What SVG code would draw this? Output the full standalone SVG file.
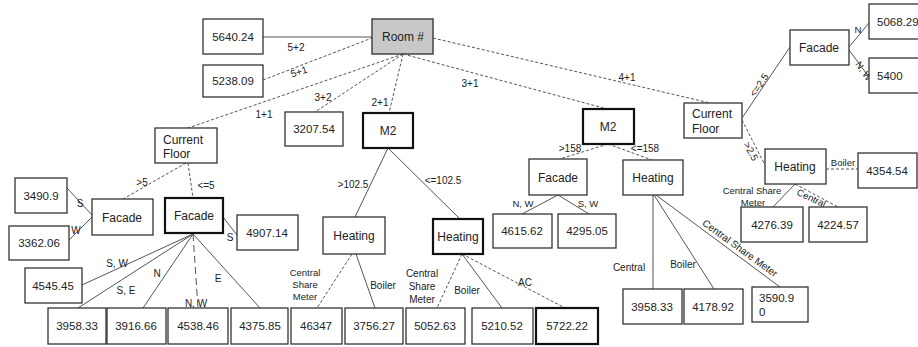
<svg xmlns="http://www.w3.org/2000/svg" width="918" height="347" viewBox="0 0 918 347">
<style>
.b{fill:#fff;stroke:#333;stroke-width:1.3}
.bt{fill:#fff;stroke:#111;stroke-width:2.2}
.g{fill:#c8c8c8;stroke:#444;stroke-width:1.5}
text{font-family:"Liberation Sans",Arial,sans-serif;fill:#222}
.t{font-size:12px;text-anchor:middle}
.ts{font-size:12px;text-anchor:start}
.n{font-size:11.5px;text-anchor:middle}
.ns{font-size:11.5px;text-anchor:start}
.l{font-size:10px;text-anchor:middle}
.s{font-size:9.5px;text-anchor:middle}
.c line{stroke:#555;stroke-width:1}
.c .d{stroke-dasharray:3,2}
.c .ld{stroke-dasharray:7,4}
</style>
<rect width="918" height="347" fill="#fff"/>
<g id="connectors" class="c">
<line x1="263" y1="37" x2="372" y2="37"/>
<line class="d" x1="263" y1="80" x2="372" y2="38"/>
<line class="d" x1="403" y1="54" x2="188" y2="128"/>
<line class="d" x1="403" y1="54" x2="315" y2="112"/>
<line class="d" x1="403" y1="54" x2="389" y2="113"/>
<line class="d" x1="403" y1="54" x2="607" y2="109"/>
<line class="d" x1="433" y1="38" x2="710" y2="103"/>
<line x1="742" y1="118" x2="790" y2="47"/>
<line x1="849" y1="47" x2="869" y2="23"/>
<line x1="849" y1="50" x2="869" y2="77"/>
<line class="d" x1="742" y1="120" x2="765" y2="165"/>
<line class="d" x1="826" y1="169" x2="858" y2="169"/>
<line x1="795" y1="184" x2="773" y2="207"/>
<line class="d" x1="795" y1="184" x2="838" y2="207"/>
<line class="d" x1="608" y1="144" x2="560" y2="159"/>
<line class="d" x1="608" y1="144" x2="652" y2="160"/>
<line x1="558" y1="195" x2="522" y2="214"/>
<line x1="558" y1="195" x2="589" y2="214"/>
<line x1="653" y1="195" x2="653" y2="289"/>
<line x1="654" y1="195" x2="714" y2="289"/>
<line x1="656" y1="195" x2="780" y2="287"/>
<line x1="388" y1="148" x2="355" y2="217"/>
<line x1="388" y1="148" x2="460" y2="219"/>
<line class="d" x1="352" y1="254" x2="317" y2="308"/>
<line x1="356" y1="254" x2="375" y2="308"/>
<line class="d" x1="462" y1="254" x2="437" y2="308"/>
<line x1="462" y1="254" x2="502" y2="308"/>
<line class="d" x1="462" y1="254" x2="565" y2="308"/>
<line class="d" x1="186" y1="163" x2="123" y2="199"/>
<line class="d" x1="188" y1="163" x2="193" y2="198"/>
<line x1="67" y1="188" x2="92" y2="215"/>
<line x1="92" y1="217" x2="69" y2="240"/>
<line x1="223" y1="217" x2="237" y2="235"/>
<line x1="193" y1="234" x2="82" y2="285"/>
<line x1="193" y1="234" x2="78" y2="308"/>
<line x1="193" y1="234" x2="143" y2="308"/>
<line class="ld" x1="193" y1="234" x2="198" y2="308"/>
<line x1="193" y1="234" x2="260" y2="308"/>
</g>
<g id="edge-labels">
<text class="l" x="296" y="51">5+2</text>
<text class="l" transform="translate(300,75) rotate(-18)">5+1</text>
<text class="l" x="264" y="118">1+1</text>
<text class="l" x="323" y="101">3+2</text>
<text class="l" x="380" y="106">2+1</text>
<text class="l" x="470" y="87">3+1</text>
<text class="l" x="627" y="81">4+1</text>
<text class="l" transform="translate(762,87) rotate(-56)">&lt;=2.5</text>
<text class="s" x="858" y="33">N</text>
<text class="s" transform="translate(861,73) rotate(55)">N, W</text>
<text class="l" transform="translate(748,153) rotate(62)">&gt;2.5</text>
<text class="s" x="843" y="166">Boiler</text>
<text class="s" x="752" y="194">Central Share</text>
<text class="s" x="753" y="206">Meter</text>
<text class="s" transform="translate(810,201) rotate(25)">Central</text>
<text class="l" x="570" y="152">&gt;158</text>
<text class="l" x="645" y="152">&lt;=158</text>
<text class="s" x="523" y="207">N, W</text>
<text class="s" x="588" y="207">S, W</text>
<text class="l" x="629" y="271">Central</text>
<text class="l" x="683" y="268">Boiler</text>
<text class="l" transform="translate(738,251) rotate(36)">Central Share Meter</text>
<text class="l" x="353" y="188">&gt;102.5</text>
<text class="l" x="443" y="184">&lt;=102.5</text>
<text class="s" x="305" y="276">Central</text>
<text class="s" x="305" y="288">Share</text>
<text class="s" x="305" y="300">Meter</text>
<text class="l" x="383" y="289">Boiler</text>
<text class="l" x="422" y="277">Central</text>
<text class="l" x="422" y="290">Share</text>
<text class="l" x="422" y="303">Meter</text>
<text class="l" x="467" y="294">Boiler</text>
<text class="l" x="525" y="286">AC</text>
<text class="l" x="142" y="186">&gt;5</text>
<text class="l" x="206" y="189">&lt;=5</text>
<text class="l" x="80" y="207">S</text>
<text class="l" x="76" y="234">W</text>
<text class="l" x="230" y="241">S</text>
<text class="l" x="117" y="267">S, W</text>
<text class="l" x="126" y="294">S, E</text>
<text class="l" x="157" y="277">N</text>
<text class="l" x="196" y="307">N, W</text>
<text class="l" x="218" y="282">E</text>
</g>
<g id="room"><rect class="g" x="372" y="19" width="61" height="35"/><text class="t" x="403" y="41">Room #</text></g>
<g id="n5640"><rect class="b" x="203" y="19" width="60" height="35"/><text class="n" x="233" y="41">5640.24</text></g>
<g id="n5238"><rect class="b" x="203" y="65" width="60" height="32"/><text class="n" x="233" y="85">5238.09</text></g>
<g id="cf1"><rect class="b" x="155" y="128" width="62" height="35"/><text class="ts" x="163" y="144">Current</text><text class="ts" x="163" y="158">Floor</text></g>
<g id="n3207"><rect class="b" x="285" y="112" width="58" height="34"/><text class="n" x="314" y="133">3207.54</text></g>
<g id="m2a"><rect class="bt" x="363" y="113" width="50" height="35"/><text class="t" x="388" y="135">M2</text></g>
<g id="m2b"><rect class="bt" x="583" y="109" width="51" height="35"/><text class="t" x="608" y="131">M2</text></g>
<g id="cf2"><rect class="b" x="684" y="103" width="58" height="35"/><text class="ts" x="692" y="118">Current</text><text class="ts" x="692" y="133">Floor</text></g>
<g id="facR"><rect class="b" x="790" y="30" width="59" height="35"/><text class="t" x="819" y="52">Facade</text></g>
<g id="n5068"><rect class="b" x="869" y="4" width="60" height="35"/><text class="ns" x="877" y="26">5068.29</text></g>
<g id="n5400"><rect class="b" x="869" y="58" width="60" height="35"/><text class="ns" x="877" y="80">5400</text></g>
<g id="heatR"><rect class="b" x="765" y="149" width="61" height="35"/><text class="t" x="795" y="171">Heating</text></g>
<g id="n4354"><rect class="b" x="858" y="153" width="59" height="35"/><text class="n" x="887" y="175">4354.54</text></g>
<g id="n4276"><rect class="b" x="741" y="207" width="62" height="35"/><text class="n" x="772" y="229">4276.39</text></g>
<g id="n4224"><rect class="b" x="809" y="207" width="58" height="35"/><text class="n" x="838" y="229">4224.57</text></g>
<g id="facM"><rect class="b" x="529" y="159" width="58" height="36"/><text class="t" x="558" y="182">Facade</text></g>
<g id="heatM"><rect class="b" x="623" y="160" width="60" height="35"/><text class="t" x="653" y="182">Heating</text></g>
<g id="n4615"><rect class="b" x="493" y="214" width="59" height="34"/><text class="n" x="522" y="235">4615.62</text></g>
<g id="n4295"><rect class="b" x="558" y="214" width="58" height="34"/><text class="n" x="587" y="235">4295.05</text></g>
<g id="n3958b"><rect class="b" x="623" y="289" width="59" height="35"/><text class="n" x="652" y="311">3958.33</text></g>
<g id="n4178"><rect class="b" x="684" y="289" width="59" height="35"/><text class="n" x="713" y="311">4178.92</text></g>
<g id="n3590"><rect class="b" x="752" y="287" width="56" height="35"/><text class="ns" x="759" y="302">3590.9</text><text class="ns" x="759" y="316">0</text></g>
<g id="heatL1"><rect class="b" x="323" y="217" width="62" height="37"/><text class="t" x="354" y="240">Heating</text></g>
<g id="heatL2"><rect class="bt" x="433" y="219" width="50" height="35"/><text class="t" x="458" y="241">Heating</text></g>
<g id="n3958a"><rect class="b" x="48" y="308" width="58" height="36"/><text class="n" x="77" y="330">3958.33</text></g>
<g id="n3916"><rect class="b" x="107" y="308" width="59" height="36"/><text class="n" x="136" y="330">3916.66</text></g>
<g id="n4538"><rect class="b" x="168" y="308" width="60" height="36"/><text class="n" x="198" y="330">4538.46</text></g>
<g id="n4375"><rect class="b" x="231" y="308" width="57" height="36"/><text class="n" x="260" y="330">4375.85</text></g>
<g id="n46347"><rect class="b" x="291" y="308" width="51" height="36"/><text class="n" x="316" y="330">46347</text></g>
<g id="n3756"><rect class="b" x="345" y="308" width="58" height="36"/><text class="n" x="374" y="330">3756.27</text></g>
<g id="n5052"><rect class="b" x="406" y="308" width="59" height="36"/><text class="n" x="435" y="330">5052.63</text></g>
<g id="n5210"><rect class="b" x="472" y="308" width="61" height="36"/><text class="n" x="502" y="330">5210.52</text></g>
<g id="n5722"><rect class="bt" x="536" y="308" width="62" height="36"/><text class="n" x="567" y="330">5722.22</text></g>
<g id="facL"><rect class="b" x="92" y="199" width="61" height="36"/><text class="t" x="122" y="222">Facade</text></g>
<g id="facT"><rect class="bt" x="165" y="198" width="58" height="35"/><text class="t" x="194" y="220">Facade</text></g>
<g id="n3490"><rect class="b" x="15" y="178" width="52" height="35"/><text class="n" x="41" y="200">3490.9</text></g>
<g id="n3362"><rect class="b" x="9" y="226" width="60" height="34"/><text class="n" x="39" y="247">3362.06</text></g>
<g id="n4907"><rect class="b" x="237" y="215" width="61" height="35"/><text class="n" x="267" y="237">4907.14</text></g>
<g id="n4545"><rect class="b" x="25" y="268" width="57" height="35"/><text class="n" x="53" y="290">4545.45</text></g>
</svg>
